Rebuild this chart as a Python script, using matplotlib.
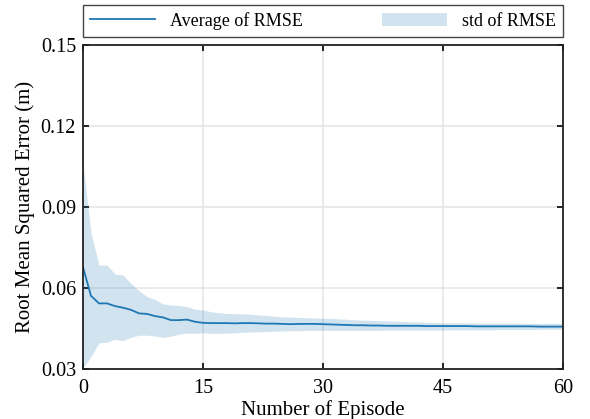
import matplotlib
matplotlib.use("Agg")
import matplotlib.pyplot as plt
import numpy as np

episodes = list(range(0, 61))
mean_rmse = [0.0677, 0.0571, 0.0543, 0.0543, 0.0533, 0.0527, 0.0519, 0.0506, 0.0504, 0.0496,
             0.0491, 0.0481, 0.0481, 0.0483, 0.0475, 0.0471, 0.0470, 0.0470, 0.0470, 0.0469,
             0.0470, 0.0470, 0.0469, 0.0468, 0.0468, 0.0467, 0.0466, 0.0467, 0.0467, 0.0467,
             0.0466, 0.0465, 0.0464, 0.0463, 0.0462, 0.0462, 0.0461, 0.0461, 0.0460, 0.0460,
             0.0460, 0.0460, 0.0460, 0.0459, 0.0459, 0.0459, 0.0459, 0.0459, 0.0459, 0.0458,
             0.0458, 0.0458, 0.0458, 0.0458, 0.0458, 0.0458, 0.0458, 0.0457, 0.0457, 0.0457,
             0.0457]
upper_rmse = [0.1063, 0.0803, 0.0685, 0.0685, 0.0652, 0.0648, 0.0617, 0.0590, 0.0568, 0.0558,
              0.0541, 0.0537, 0.0536, 0.0531, 0.0521, 0.0519, 0.0512, 0.0508, 0.0506, 0.0505,
              0.0504, 0.0503, 0.0500, 0.0498, 0.0495, 0.0493, 0.0492, 0.0491, 0.0490, 0.0489,
              0.0488, 0.0487, 0.0486, 0.0484, 0.0482, 0.0481, 0.0480, 0.0479, 0.0478, 0.0477,
              0.0476, 0.0475, 0.0474, 0.0473, 0.0472, 0.0471, 0.0471, 0.0471, 0.0471, 0.0470,
              0.0470, 0.0470, 0.0470, 0.0470, 0.0470, 0.0469, 0.0469, 0.0469, 0.0469, 0.0469,
              0.0469]
lower_rmse = [0.0304, 0.0346, 0.0397, 0.0399, 0.0410, 0.0405, 0.0417, 0.0425, 0.0425, 0.0422,
              0.0417, 0.0422, 0.0429, 0.0433, 0.0432, 0.0434, 0.0432, 0.0432, 0.0433, 0.0434,
              0.0436, 0.0437, 0.0438, 0.0439, 0.0440, 0.0441, 0.0442, 0.0442, 0.0443, 0.0443,
              0.0443, 0.0443, 0.0443, 0.0443, 0.0443, 0.0443, 0.0443, 0.0443, 0.0444, 0.0444,
              0.0444, 0.0444, 0.0444, 0.0444, 0.0444, 0.0444, 0.0445, 0.0445, 0.0445, 0.0445,
              0.0445, 0.0445, 0.0446, 0.0446, 0.0446, 0.0446, 0.0446, 0.0447, 0.0447, 0.0447,
              0.0447]
x_ticks = [0, 15, 30, 45, 60]
y_ticks = [0.03, 0.06, 0.09, 0.12, 0.15]

plt.rcParams['font.family'] = ['Liberation Serif', 'DejaVu Serif']
plt.rcParams['font.size'] = 14

fig = plt.figure(figsize=(5.9, 4.19), dpi=100)
ax = fig.add_axes([83/590, 1 - 369/419, 480/590, 324/419])

blue = '#1f77b4'
ax.fill_between(episodes, lower_rmse, upper_rmse, color=blue, alpha=0.2, linewidth=0,
                label='std of RMSE')
ax.plot(episodes, mean_rmse, color=blue, linewidth=1.3, label='Average of RMSE')

ax.set_xlim(0, 60)
ax.set_ylim(0.03, 0.15)
ax.set_xticks(x_ticks)
ax.set_yticks(y_ticks)
ax.set_yticklabels([f'{v:.2f}' for v in y_ticks])
ax.grid(True, color='#e6e6e6', linewidth=1.2)
ax.set_axisbelow(True)
ax.tick_params(direction='in', top=True, right=True, length=4, width=1.2, labelsize=14.5, pad=5)
ax.tick_params(axis='x', pad=7)
for s in ax.spines.values():
    s.set_linewidth(1.3)
    s.set_color('#222222')

ax.set_xlabel('Number of Episode', fontsize=15, labelpad=2)
ax.set_ylabel('Root Mean Squared Error (m)', fontsize=15, labelpad=4)

handles, labels = ax.get_legend_handles_labels()
order = [1, 0]
leg = ax.legend([handles[i] for i in order], [labels[i] for i in order],
                loc='lower left', bbox_to_anchor=(0, 1.025, 1, 0.1), mode='expand',
                ncol=2, fancybox=False, edgecolor='#444444', framealpha=1,
                borderaxespad=0, handlelength=3.6, fontsize=13, borderpad=0.4)
leg.get_frame().set_linewidth(1.0)

fig.savefig('out.png', dpi=100)
